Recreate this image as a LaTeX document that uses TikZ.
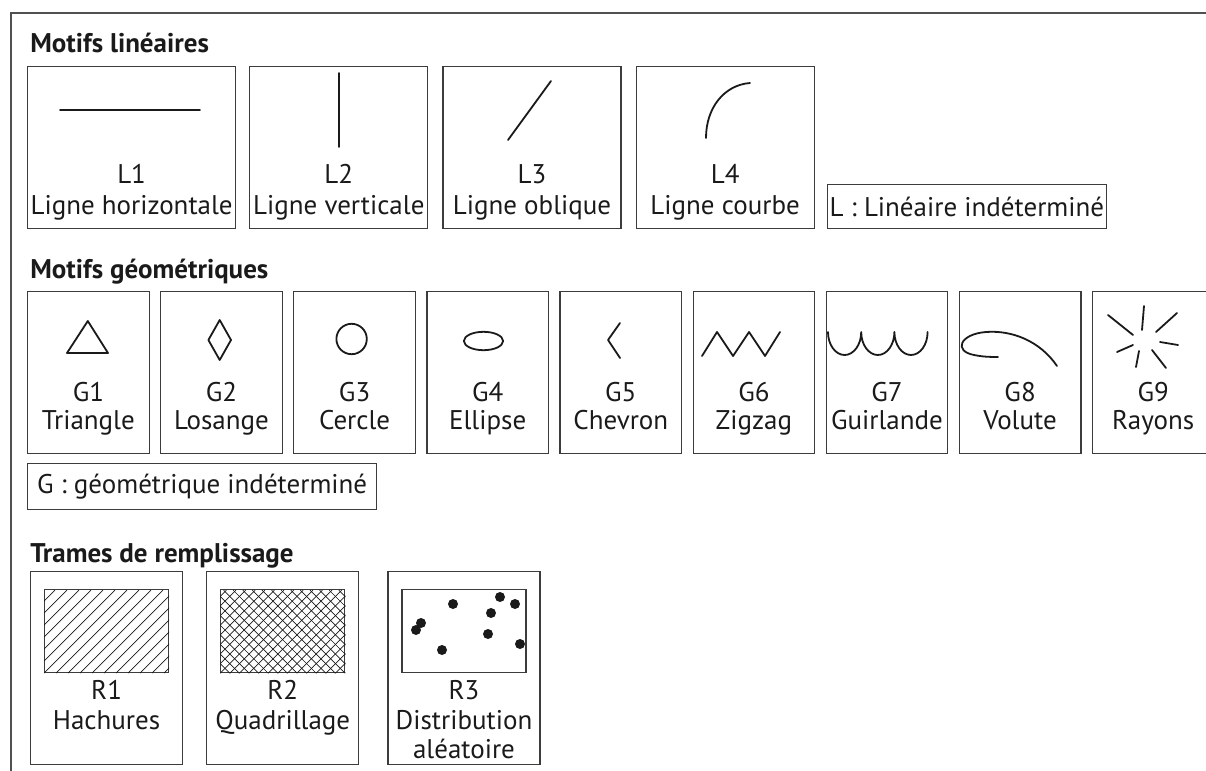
\documentclass[tikz,border=0pt]{standalone}
\usepackage{fontspec}
\setmainfont{PT Sans}
\usetikzlibrary{positioning}
\definecolor{mfink}{HTML}{1A1A1A}
\definecolor{mfline}{HTML}{3C3C3C}
\definecolor{mfframe}{HTML}{505050}

\begin{document}
\begin{tikzpicture}[x=0.5pt,y=-0.5pt,
  cell/.style={draw=mfline,line width=0.6pt,minimum height=81pt,inner sep=0pt,
    font=\fontsize{13.5}{16}\selectfont,text=mfink},
  gcell/.style={cell,minimum width=60.8pt},
  rcell/.style={cell,minimum width=76pt,minimum height=96.5pt},
  field/.style={draw=mfline,line width=0.6pt,minimum width=62pt,minimum height=41.5pt,inner sep=0pt},
  tag/.style={font=\fontsize{13.5}{16}\selectfont,text=mfink,inner sep=0pt,anchor=base},
  head/.style={font=\bfseries\fontsize{13.5}{16}\selectfont,text=mfink,inner sep=0pt,anchor=base west},
  motif/.style={draw=mfink,line width=0.9pt,line cap=round,line join=round},
  hatch/.style={draw=mfink,line width=0.35pt}]
  \useasboundingbox (0,0) rectangle (1206,771);
  \draw[mfframe,line width=0.8pt] (1206,13) -- (11,13) -- (11,771);

  % motifs lineaires
  \node[head] (hlin) at (30,53) {Motifs linéaires};
  \node[cell,minimum width=104pt,anchor=north west] (l1) at (27,66) {};
  \node[cell,minimum width=89pt,right=6.5pt of l1] (l2) {};
  \node[cell,minimum width=89pt,right=7pt of l2] (l3) {};
  \node[cell,minimum width=89pt,right=7pt of l3] (l4) {};
  \node[cell,minimum width=139.5pt,minimum height=22pt,anchor=south west] (lind)
    at ([xshift=6pt]l4.south east) {L : Linéaire indéterminé};
  \node[tag] (l1a) at ([yshift=23pt]l1.south) {L1};
  \node[tag] (l1b) at ([yshift=7.5pt]l1.south) {Ligne horizontale};
  \node[tag] (l2a) at ([yshift=23pt]l2.south) {L2};
  \node[tag] (l2b) at ([yshift=7.5pt]l2.south) {Ligne verticale};
  \node[tag] (l3a) at ([yshift=23pt]l3.south) {L3};
  \node[tag] (l3b) at ([yshift=7.5pt]l3.south) {Ligne oblique};
  \node[tag] (l4a) at ([yshift=23pt]l4.south) {L4};
  \node[tag] (l4b) at ([yshift=7.5pt]l4.south) {Ligne courbe};
  \draw[motif] (60,110) -- (200,110);
  \draw[motif] (339,73) -- (339,147);
  \draw[motif] (508,140) -- (551,81);
  \draw[motif] (706,138) .. controls (706,108) and (724,85) .. (750,83);

  % motifs geometriques
  \node[head] (hgeo) at (30,278) {Motifs géométriques};
  \node[gcell,anchor=north west] (g1) at (27,291) {};
  \node[gcell,right=5.15pt of g1] (g2) {};
  \node[gcell,right=5.15pt of g2] (g3) {};
  \node[gcell,right=5.15pt of g3] (g4) {};
  \node[gcell,right=5.15pt of g4] (g5) {};
  \node[gcell,right=5.15pt of g5] (g6) {};
  \node[gcell,right=5.15pt of g6] (g7) {};
  \node[gcell,right=5.15pt of g7] (g8) {};
  \node[gcell,right=5.15pt of g8] (g9) {};
  \node[cell,minimum width=174.5pt,minimum height=23pt,anchor=north west] (gind)
    at ([yshift=-4.5pt]g1.south west) {G : géométrique indéterminé};
  \node[tag] (g1a) at ([yshift=26.5pt]g1.south) {G1};
  \node[tag] (g1b) at ([yshift=12.5pt]g1.south) {Triangle};
  \node[tag] (g2a) at ([yshift=26.5pt]g2.south) {G2};
  \node[tag] (g2b) at ([yshift=12.5pt]g2.south) {Losange};
  \node[tag] (g3a) at ([yshift=26.5pt]g3.south) {G3};
  \node[tag] (g3b) at ([yshift=12.5pt]g3.south) {Cercle};
  \node[tag] (g4a) at ([yshift=26.5pt]g4.south) {G4};
  \node[tag] (g4b) at ([yshift=12.5pt]g4.south) {Ellipse};
  \node[tag] (g5a) at ([yshift=26.5pt]g5.south) {G5};
  \node[tag] (g5b) at ([yshift=12.5pt]g5.south) {Chevron};
  \node[tag] (g6a) at ([yshift=26.5pt]g6.south) {G6};
  \node[tag] (g6b) at ([yshift=12.5pt]g6.south) {Zigzag};
  \node[tag] (g7a) at ([yshift=26.5pt]g7.south) {G7};
  \node[tag] (g7b) at ([yshift=12.5pt]g7.south) {Guirlande};
  \node[tag] (g8a) at ([yshift=26.5pt]g8.south) {G8};
  \node[tag] (g8b) at ([yshift=12.5pt]g8.south) {Volute};
  \node[tag] (g9a) at ([yshift=26.5pt]g9.south) {G9};
  \node[tag] (g9b) at ([yshift=12.5pt]g9.south) {Rayons};
  \draw[motif] (67,353) -- (108,353) -- (87.8,321) -- cycle;
  \draw[motif] (219.7,320) -- (231,340) -- (219.7,360) -- (208.4,340) -- cycle;
  \draw[motif] (351.6,339) circle[radius=7.6pt];
  \draw[motif] (483.5,341) ellipse[x radius=9.8pt,y radius=4.6pt];
  \draw[motif] (620,323) -- (608,340) -- (620,358);
  \draw[motif] (702,356) -- (717,332) -- (733,356) -- (749,332) -- (765,356) -- (780,332);
  \draw[motif] (828,332) arc[start angle=180,end angle=360,x radius=8.3pt,y radius=11.5pt]
    arc[start angle=180,end angle=360,x radius=8.3pt,y radius=11.5pt]
    arc[start angle=180,end angle=360,x radius=8.3pt,y radius=11.5pt];
  \draw[motif] (1057,366) .. controls (1040,341) and (1012,330) .. (986,332)
    .. controls (960,334) and (953,351) .. (974,355) .. controls (984,357) and (991,357) .. (998,357);
  \draw[motif] (1108,315) -- (1133,335);
  \draw[motif] (1144,306) -- (1142,330);
  \draw[motif] (1177,313) -- (1156,332);
  \draw[motif] (1160,342) -- (1178,345);
  \draw[motif] (1117,352) -- (1133,345);
  \draw[motif] (1139,351) -- (1136,367);
  \draw[motif] (1152,350) -- (1166,368);

  % trames de remplissage
  \node[head] (htra) at (30,562) {Trames de remplissage};
  \node[rcell,anchor=north west] (r1) at (30,571) {};
  \node[rcell,right=11.5pt of r1] (r2) {};
  \node[rcell,right=14pt of r2] (r3) {};
  \node[field,anchor=north] (r1f) at ([yshift=-9pt]r1.north) {};
  \node[field,anchor=north] (r2f) at ([yshift=-9pt]r2.north) {};
  \node[field,anchor=north] (r3f) at ([yshift=-9pt]r3.north) {};
  \begin{scope}
    \clip (r1f.south west) rectangle (r1f.north east);
    \foreach \k in {-8,...,12}
      \draw[hatch] ([xshift=\k*6pt]r1f.south west) -- ++(41.5pt,41.5pt);
  \end{scope}
  \begin{scope}
    \clip (r2f.south west) rectangle (r2f.north east);
    \foreach \k in {-10,...,24} {
      \draw[hatch] ([xshift=\k*4.8pt]r2f.south west) -- ++(41.5pt,41.5pt);
      \draw[hatch] ([xshift=\k*4.8pt]r2f.south west) -- ++(-41.5pt,41.5pt);
    }
  \end{scope}
  \foreach \p in {(453,604),(500,597),(515,604),(491,613),(421,623),(416,630),(488,634),(442,650),(520,644)}
    \fill[mfink] \p circle[radius=2.5pt];
  \node[tag] (r1a) at ([yshift=33pt]r1.south) {R1};
  \node[tag] (r1b) at ([yshift=18pt]r1.south) {Hachures};
  \node[tag] (r2a) at ([yshift=33pt]r2.south) {R2};
  \node[tag] (r2b) at ([yshift=18pt]r2.south) {Quadrillage};
  \node[tag] (r3a) at ([yshift=33pt]r3.south) {R3};
  \node[tag] (r3b) at ([yshift=18pt]r3.south) {Distribution};
  \node[tag] (r3c) at ([yshift=3.5pt]r3.south) {aléatoire};
\end{tikzpicture}
\end{document}
